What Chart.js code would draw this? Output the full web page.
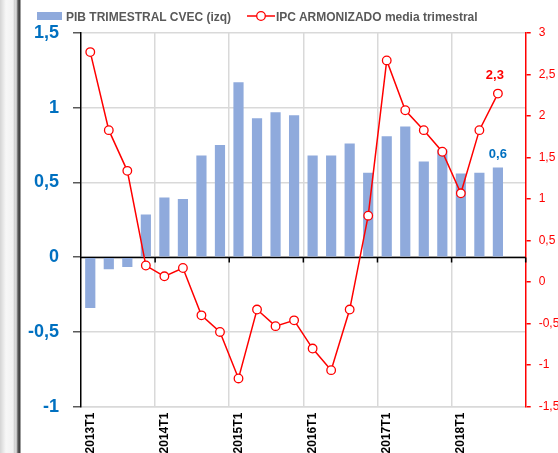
<!DOCTYPE html>
<html>
<head>
<meta charset="utf-8">
<script src="https://cdn.jsdelivr.net/npm/chart.js@4/dist/chart.umd.min.js"></script>
<style>
  html, body { margin: 0; padding: 0; background: #fff; }
  #wrap { position: relative; width: 558px; height: 453px; overflow: hidden; }
  #marco { position: absolute; left: 0; top: 0; width: 21px; height: 453px;
    background: linear-gradient(to right, #d4d4d4 0px, #e6e6e6 3px, #f7f7f7 6px, #f2f2f2 13px, #c8c8c8 15px, #e8e8e8 16px, #5a5a5a 18px, #3a3a3a 20px, #fff 21px); }
  .leyenda { position: absolute; top: 10px; font: bold 12px "Liberation Sans", Arial, sans-serif; color: #595959; white-space: nowrap; line-height: 14px; }
  #cajaPib { position: absolute; left: 37px; top: 12px; width: 25px; height: 8px; background: #8FAADC; }
  #marcaIpc { position: absolute; left: 244px; top: 9px; }
</style>
</head>
<body>
<div id="wrap">
  <div id="marco"></div>
  <div id="cajaPib"></div>
  <div class="leyenda" style="left:66px">PIB TRIMESTRAL CVEC (izq)</div>
  <svg id="marcaIpc" width="32" height="14"><line x1="3" y1="7" x2="31" y2="7" stroke="#FF0000" stroke-width="1.5"/><circle cx="17" cy="7" r="4.3" fill="#fff" stroke="#FF0000" stroke-width="1.3"/></svg>
  <div class="leyenda" style="left:276px">IPC ARMONIZADO media trimestral</div>
  <canvas id="grafico" width="558" height="453"></canvas>
</div>
<script>
// trimestres 2013T1 - 2018T4
const categorias = [
  '2013T1','2013T2','2013T3','2013T4',
  '2014T1','2014T2','2014T3','2014T4',
  '2015T1','2015T2','2015T3','2015T4',
  '2016T1','2016T2','2016T3','2016T4',
  '2017T1','2017T2','2017T3','2017T4',
  '2018T1','2018T2','2018T3','2018T4'
];
// PIB trimestral CVEC (eje izquierdo)
const pib = [-0.34, -0.08, -0.065, 0.285, 0.40, 0.39, 0.68, 0.75, 1.17, 0.93, 0.97, 0.95,
             0.68, 0.68, 0.76, 0.565, 0.81, 0.875, 0.64, 0.72, 0.56, 0.565, 0.60];
// IPC armonizado media trimestral (eje derecho)
const ipc = [2.77, 1.83, 1.34, 0.20, 0.07, 0.17, -0.40, -0.60, -1.16, -0.33, -0.53, -0.46,
             -0.80, -1.06, -0.33, 0.80, 2.67, 2.07, 1.83, 1.57, 1.07, 1.83, 2.27];
const ticksIzq = [-1, -0.5, 0, 0.5, 1, 1.5];
const ticksDer = [-1.5, -1, -0.5, 0, 0.5, 1, 1.5, 2, 2.5, 3];

const coma = v => String(v).replace('.', ',');

// linea del cero (negra) con marcas cada 4 trimestres
const lineaCero = {
  id: 'lineaCero',
  beforeDatasetsDraw(chart) {
    const { ctx, chartArea, scales } = chart;
    const y0 = Math.round(scales.y.getPixelForValue(0)) + 0.5;
    const paso = scales.x.getPixelForValue(1) - scales.x.getPixelForValue(0);
    ctx.save();
    ctx.strokeStyle = '#000';
    ctx.lineWidth = 1.5;
    ctx.beginPath();
    ctx.moveTo(chartArea.left, y0);
    ctx.lineTo(chartArea.right, y0);
    for (let i = 4; i <= categorias.length; i += 4) {
      const xb = scales.x.getPixelForValue(i) - paso / 2;
      ctx.moveTo(xb, y0);
      ctx.lineTo(xb, y0 + 5);
    }
    ctx.stroke();
    ctx.restore();
  }
};

// etiquetas del ultimo dato
const etiquetas = {
  id: 'etiquetas',
  afterDatasetsDraw(chart) {
    const { ctx } = chart;
    const barras = chart.getDatasetMeta(1).data;
    const puntos = chart.getDatasetMeta(0).data;
    const b = barras[barras.length - 1];
    const p = puntos[puntos.length - 1];
    ctx.save();
    ctx.textAlign = 'center';
    ctx.textBaseline = 'alphabetic';
    ctx.font = 'bold 13px "Liberation Sans", Arial, sans-serif';
    ctx.fillStyle = '#0070C0';
    ctx.fillText(coma(pib[pib.length - 1].toFixed(1)), b.x, b.y - 10);
    ctx.fillStyle = '#FF0000';
    ctx.fillText(coma(ipc[ipc.length - 1].toFixed(1)), p.x - 3, p.y - 15);
    ctx.restore();
  }
};

new Chart(document.getElementById('grafico'), {
  type: 'bar',
  data: {
    labels: categorias,
    datasets: [
      {
        type: 'line',
        label: 'IPC ARMONIZADO media trimestral',
        data: ipc,
        yAxisID: 'y1',
        borderColor: '#FF0000',
        borderWidth: 1.5,
        pointRadius: 4.3,
        pointBorderWidth: 1.3,
        pointBackgroundColor: '#fff',
        pointBorderColor: '#FF0000',
        tension: 0,
        order: 0
      },
      {
        type: 'bar',
        label: 'PIB TRIMESTRAL CVEC (izq)',
        data: pib,
        yAxisID: 'y',
        backgroundColor: '#8FAADC',
        borderWidth: 0,
        categoryPercentage: 1,
        barPercentage: 0.55,
        order: 1
      }
    ]
  },
  options: {
    responsive: false,
    animation: false,
    layout: { padding: { top: 33, left: 0, right: 0, bottom: 0 } },
    plugins: { legend: { display: false }, tooltip: { enabled: false } },
    scales: {
      x: {
        offset: true,
        grid: {
          offset: true,
          drawTicks: false,
          lineWidth: 1.5,
          color: c => (c.index % 4 === 0 && c.index > 0 && c.index < categorias.length) ? '#d9d9d9' : 'rgba(0,0,0,0)'
        },
        border: { color: '#d9d9d9', width: 1.5 },
        ticks: {
          autoSkip: false,
          minRotation: 90,
          maxRotation: 90,
          padding: 6,
          color: '#000',
          font: { family: '"Liberation Sans", Arial, sans-serif', size: 12, weight: 'bold' },
          callback: (v, i) => (i % 4 === 0 ? categorias[i] : '')
        },
        afterFit: s => { s.height = 46.3; }
      },
      y: {
        position: 'left',
        min: -1,
        max: 1.5,
        afterBuildTicks: s => { s.ticks = ticksIzq.map(v => ({ value: v })); },
        grid: { color: '#d9d9d9', lineWidth: 1.5, tickColor: '#595959', tickLength: 8 },
        border: { color: '#000', width: 1.5 },
        ticks: {
          color: '#0070C0',
          padding: 14,
          font: { family: '"Liberation Sans", Arial, sans-serif', size: 18, weight: 'bold' },
          callback: v => coma(v)
        },
        afterFit: s => { s.width = 81; }
      },
      y1: {
        position: 'right',
        min: -1.5,
        max: 3,
        afterBuildTicks: s => { s.ticks = ticksDer.map(v => ({ value: v })); },
        grid: { drawOnChartArea: false, tickColor: '#FF0000', tickLength: 5, lineWidth: 1.5 },
        border: { color: '#FF0000', width: 1.5 },
        ticks: {
          color: '#FF0000',
          padding: 8,
          font: { family: '"Liberation Sans", Arial, sans-serif', size: 12 },
          callback: v => coma(v)
        },
        afterFit: s => { s.width = 32.3; }
      }
    }
  },
  plugins: [lineaCero, etiquetas]
});
</script>
</body>
</html>
